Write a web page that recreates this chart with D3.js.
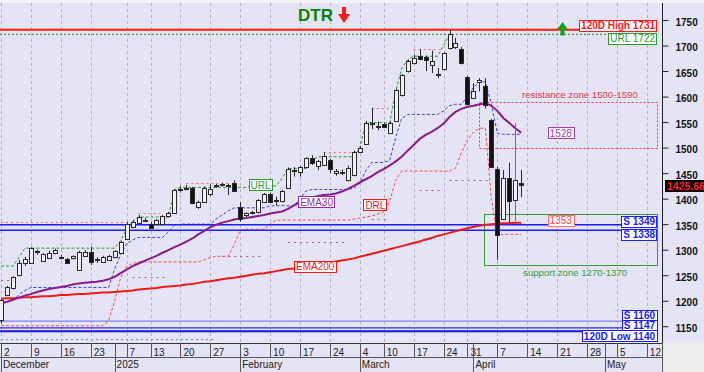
<!DOCTYPE html>
<html>
<head>
<meta charset="utf-8">
<script src="https://cdn.jsdelivr.net/npm/d3@7"></script>
<style>
  body { margin: 0; background: #fff; }
  svg { display: block; font-family: "Liberation Sans", Arial, sans-serif; }
</style>
</head>
<body>
<svg id="chart" width="704" height="372"></svg>
<script>
// daily candles, one per trading day starting 2 Dec 2024 (index 0)
const opens = [1161,1212,1224,1250,1274,1274,1296,1278,1285,1293,
  1286,1281,1283,1261,1288,1296,1281,1276,1281,1285,
  1293,1322,1346,1352,1357,1351,1350,1350,1366,1372,
  1417,1420,1421,1385,1394,1409,1425,1428,1426,1431,
  1384,1368,1372,1373,1394,1410,1396,1395,1421,1455,
  1453,1461,1479,1465,1466,1476,1451,1452,1438,1446,
  1492,1507,1548,1543,1546,1530,1553,1602,1650,1665,
  1679,1678,1663,1644,1654,1694,1696,1694,1639,1597,
  1629,1621,1554,1459,1360,1441,1396,1430];
const highs = [1203,1229,1248,1280,1286,1305,1300,1293,1298,1302,
  1290,1284,1289,1298,1299,1306,1285,1288,1290,1299,
  1318,1354,1358,1368,1362,1354,1360,1368,1374,1419,
  1424,1427,1423,1396,1424,1428,1429,1431,1429,1436,
  1393,1373,1376,1399,1411,1412,1404,1417,1461,1462,
  1464,1481,1485,1476,1491,1478,1458,1457,1465,1494,
  1503,1552,1578,1551,1548,1551,1615,1644,1672,1682,
  1693,1680,1690,1656,1687,1731,1715,1697,1641,1626,
  1636,1636,1556,1462,1456,1470,1548,1456];
const lows = [1155,1209,1222,1248,1268,1272,1290,1276,1283,1291,
  1281,1272,1281,1259,1286,1270,1274,1274,1279,1283,
  1291,1320,1344,1350,1354,1343,1348,1348,1363,1370,
  1412,1416,1389,1380,1392,1405,1421,1424,1407,1413,
  1355,1364,1369,1371,1392,1392,1387,1393,1419,1443,
  1443,1459,1466,1456,1464,1450,1445,1446,1434,1444,
  1490,1505,1536,1534,1539,1528,1551,1600,1647,1663,
  1671,1650,1646,1636,1652,1692,1693,1663,1587,1595,
  1610,1577,1460,1280,1358,1353,1356,1403];
const closes = [1201,1227,1246,1274,1282,1303,1297,1291,1294,1299,
  1285,1274,1287,1296,1296,1277,1280,1285,1288,1297,
  1315,1351,1355,1364,1359,1344,1358,1366,1372,1417,
  1419,1421,1391,1394,1421,1418,1426,1426,1425,1415,
  1361,1371,1374,1397,1409,1394,1398,1415,1459,1456,
  1462,1479,1469,1474,1483,1459,1455,1450,1461,1492,
  1500,1549,1547,1541,1541,1549,1613,1642,1670,1675,
  1673,1672,1670,1645,1685,1722,1704,1667,1587,1611,
  1633,1583,1462,1330,1440,1395,1436,1425.66];

const ema30 = [1195,1198,1202,1206,1210,1213,1217,1220,1223,1225,
  1227,1229,1232,1234,1235,1236,1237,1239,1242,1247,
  1254,1261,1268,1273,1278,1283,1288,1294,1299,1305,
  1310,1316,1322,1330,1337,1344,1349,1353,1356,1359,
  1361,1362,1364,1366,1368,1371,1373,1375,1380,1387,
  1393,1398,1402,1405,1407,1408,1410,1414,1419,1425,
  1432,1438,1444,1452,1458,1465,1473,1482,1494,1505,
  1517,1525,1531,1538,1547,1560,1570,1576,1580,1582,
  1585,1587,1582,1572,1558,1548,1538,1529];
const ema200 = [1204,1205,1205,1206,1207,1207,1208,1209,1209,1210,
  1211,1211,1212,1213,1213,1214,1215,1216,1216,1217,
  1218,1219,1220,1222,1223,1224,1225,1227,1228,1229,
  1230,1232,1233,1235,1237,1238,1240,1242,1244,1245,
  1247,1249,1251,1253,1254,1256,1258,1260,1262,1263,
  1265,1267,1269,1271,1273,1275,1277,1279,1281,1283,
  1286,1289,1292,1295,1298,1301,1304,1307,1310,1313,
  1316,1320,1323,1327,1330,1333,1336,1339,1342,1345,
  1347,1349,1350,1351,1352,1352,1353,1353];

// trailing band (blue dashed), lower band DRL (red dashed), upper band URL (green dashed)
const trail = [null,null,1200,1212,1220,1226,1226,1226,1226,1226,
  1226,1226,1226,1226,1226,1226,1226,1226,1226,1262,
  1290,1312,1319,1324,1324,1324,1324,1324,1335,1348,
  1350,1350,1350,1350,1350,1350,1360,1368,1376,1382,
  1382,1382,1382,1382,1382,1386,1386,1386,1386,1386,
  1400,1415,1418,1418,1418,1418,1418,1418,1418,1420,
  1430,1455,1471,1471,1471,1475,1520,1557,1565,1565,
  1565,1565,1565,1565,1572,1582,1585,1585,1600,1618,
  1629,1629,1585,1528,1526,1526,1526,1526];
const drl = [1151,1151,1151,1151,1151,1151,1151,1151,1151,1151,
  1151,1151,1151,1151,1151,1151,1151,1151,1160,1200,
  1245,1268,1273,1276,1276,1276,1276,1276,1276,1276,
  1276,1276,1276,1276,1280,1285,1287,1287,1287,1310,
  1338,1340,1340,1340,1340,1350,1358,1358,1358,1358,
  1358,1358,1358,1358,1358,1358,1358,1358,1358,1360,
  1362,1364,1366,1370,1374,1395,1436,1454,1454,1454,
  1454,1454,1454,1454,1454,1454,1460,1490,1515,1530,
  1538,1538,1400,1330,1330,1330,1330,1330];
const url = [1268,1268,1268,1285,1303,1303,1303,1303,1303,1303,
  1303,1303,1303,1303,1303,1303,1303,1303,1303,1303,
  1318,1340,1355,1364,1364,1364,1364,1364,1364,1418,
  1422,1422,1422,1422,1422,1422,1422,1422,1422,1422,
  1422,1422,1425,1425,1425,1425,1425,1440,1459,1459,
  1459,1459,1475,1482,1482,1482,1482,1482,1482,1482,
  1500,1549,1549,1549,1549,1549,1610,1655,1672,1679,
  1679,1679,1679,1679,1700,1722];

// short dotted segments: [fromIndex, toIndex, value]
const highSegs = [[0,21,1355],[23,27,1372],[31,38,1430],[54,59,1492],[62,65,1578],[69,74,1693]];
const lowSegs = [[0,3,1240],[22,28,1247],[37,44,1287],[48,58,1315],[62,65,1361],[70,74,1417],[75,82,1436]];
const baseSegs = [[0,36,1126]];

// horizontal levels
const levelVals = [1731, 1722, 1349, 1338, 1160, 1147, 1140];
const levelText = ["120D High 1731", "URL 1722", "S 1349", "S 1338", "S 1160", "S 1147", "120D Low 1140"];

const resZone = [1500, 1590];
const supZone = [1270, 1370];
const lastPrice = 1425.66;

// x axis
const tickIdx = [0,5,10,15,21,25,30,35,40,45,50,55,60,64,69,74,78,83,88,93,98,103,108];
const tickLbl = ["2","9","16","23","7","13","20","27","3","10","17","24","4","10","17","24","31","7","14","21","28","5","12"];
const monthIdx = [0,19,40,60,79,101];
const monthLbl = ["December","2025","February","March","April","May"];

const W = 704, H = 372;
const plotTop = 3, plotBottom = 343, plotRight = 662;
const BG = "#e4e4f4";

const svg = d3.select("#chart");
const x = d3.scaleLinear().domain([0, 110.5]).range([1, 661.8]);
const y = d3.scaleLinear().domain([1117.2, 1783.3]).range([plotBottom, plotTop]);
const px = v => Math.round(v) + 0.5;

svg.append("rect").attr("width", W).attr("height", H).attr("fill", BG);
svg.append("rect").attr("width", W).attr("height", plotTop).attr("fill", "#f3f3f8");
svg.append("rect").attr("x", plotRight).attr("y", plotBottom)
  .attr("width", W - plotRight).attr("height", H - plotBottom).attr("fill", "#ececec");

// vertical grid
svg.append("g").selectAll("line").data(tickIdx).join("line")
  .attr("x1", d => px(x(d))).attr("x2", d => px(x(d)))
  .attr("y1", plotTop).attr("y2", plotBottom)
  .attr("stroke", "#b2b2bc").attr("stroke-dasharray", "3,3");

const labelRight = x(109.7);

// zones
svg.append("rect")
  .attr("x", px(x(80))).attr("y", px(y(resZone[1])))
  .attr("width", Math.round(labelRight - x(80))).attr("height", Math.round(y(resZone[0]) - y(resZone[1])))
  .attr("fill", "none").attr("stroke", "#ff3030").attr("stroke-dasharray", "2,2");
svg.append("rect")
  .attr("x", px(x(80.8))).attr("y", px(y(supZone[1])))
  .attr("width", Math.round(labelRight - x(80.8))).attr("height", Math.round(y(supZone[0]) - y(supZone[1])))
  .attr("fill", "none").attr("stroke", "#3a9a3a");

// dotted segments
function segs(data, color, dash) {
  svg.append("g").selectAll("line").data(data).join("line")
    .attr("x1", d => x(d[0])).attr("x2", d => x(d[1]))
    .attr("y1", d => px(y(d[2]))).attr("y2", d => px(y(d[2])))
    .attr("stroke", color).attr("stroke-dasharray", dash);
}
segs(highSegs, "#ff6a6a", "2,3");
segs(lowSegs, "#b050c0", "2,4");
segs(baseSegs, "#7a7aff", "2,3");

// bands
function band(vals, color, dash, width) {
  const line = d3.line()
    .defined(d => d != null)
    .x((d, i) => x(i)).y(d => y(d));
  svg.append("path").attr("d", line(vals))
    .attr("fill", "none").attr("stroke", color)
    .attr("stroke-width", width).attr("stroke-dasharray", dash);
}
band(drl, "#ff4a4a", "3,2", 1);
band(trail, "#3a3aff", "3,2", 1);
band(url, "#2e9a2e", "3,2", 1);

// level lines
const levelColor = ["#ff1a1a", "#3aa53a", "#1c1cff", "#1c1cff", "#8080ff", "#2a2aff", "#1010e0"];
const levelWidth = [2, 1.3, 1.4, 1.4, 1.2, 1.2, 2];
const levelDash = [null, "2,2", null, null, null, null, null];
svg.append("g").selectAll("line").data(levelVals).join("line")
  .attr("x1", 0).attr("x2", labelRight)
  .attr("y1", d => y(d)).attr("y2", d => y(d))
  .attr("stroke", (d, i) => levelColor[i])
  .attr("stroke-width", (d, i) => levelWidth[i])
  .attr("stroke-dasharray", (d, i) => levelDash[i]);

// moving averages
const maLine = d3.line().x((d, i) => x(i)).y(d => y(d));
svg.append("path").attr("d", maLine(ema200)).attr("fill", "none")
  .attr("stroke", "#f01818").attr("stroke-width", 2);
svg.append("path").attr("d", maLine(ema30)).attr("fill", "none")
  .attr("stroke", "#8a1890").attr("stroke-width", 2);

// candles
const candles = opens.map((o, i) => ({ i, o, h: highs[i], l: lows[i], c: closes[i] }));
const cg = svg.append("g");
cg.selectAll("line").data(candles).join("line")
  .attr("x1", d => px(x(d.i))).attr("x2", d => px(x(d.i)))
  .attr("y1", d => y(d.h)).attr("y2", d => y(d.l))
  .attr("stroke", d => d.i === 86 ? "#707070" : "#2a2a2a");
cg.selectAll("rect").data(candles).join("rect")
  .attr("x", d => px(x(d.i)) - 2)
  .attr("y", d => px(y(Math.max(d.o, d.c))))
  .attr("width", 4)
  .attr("height", d => Math.max(1, Math.round(Math.abs(y(d.o) - y(d.c)))))
  .attr("fill", d => d.c < d.o ? "#111" : "#f0f0fa")
  .attr("stroke", "#2a2a2a");

// boxed labels
function boxLabel(text, xPos, yMid, anchor, color, opts = {}) {
  const g = svg.append("g");
  const t = g.append("text").attr("x", xPos).attr("y", yMid).attr("dy", "0.35em")
    .attr("text-anchor", anchor).attr("fill", color)
    .attr("font-size", opts.size || 10)
    .attr("font-weight", opts.bold ? "bold" : "normal")
    .text(text);
  if (opts.box !== false) {
    const b = t.node().getBBox();
    g.insert("rect", "text")
      .attr("x", Math.round(b.x) - 1.5).attr("y", Math.round(yMid) - 5.5)
      .attr("width", Math.round(b.width) + 3).attr("height", 11)
      .attr("fill", opts.fill || "#fff").attr("stroke", opts.stroke || color);
  }
  return g;
}

const levelTextColor = ["#ff1a1a", "#2e9a2e", "#1c1cff", "#1c1cff", "#1c1cff", "#1c1cff", "#1c1cff"];
const levelBold = [true, false, true, true, true, true, true];
const levelLabelDy = [-4, 4.5, -3, 4.5, -5.5, -2, 5];
levelVals.forEach((v, i) => {
  boxLabel(levelText[i], labelRight - 2, y(v) + levelLabelDy[i], "end", levelTextColor[i], { bold: levelBold[i] });
});

boxLabel("EMA30", x(49.7) + 2, y(1393), "start", "#9a2aa0");
boxLabel("EMA200", x(49) + 2, y(1267), "start", "#f01818");
boxLabel("URL", x(41.4) + 2, y(1426), "start", "#2e9a2e");
boxLabel("DRL", x(60.6) + 2, y(1387), "start", "#f01818");
boxLabel(String(Math.round(ema30[ema30.length - 1]) - 1), x(91.4) + 2, y(1528.5), "start", "#a040a8");
boxLabel(String(Math.round(ema200[ema200.length - 1])), x(91.4) + 2, y(1357), "start", "#ff4040", { stroke: "#ff7070" });

svg.append("text").attr("x", x(96.8)).attr("y", y(resZone[1]) - 4)
  .attr("text-anchor", "middle").attr("font-size", 9.6).attr("fill", "#e8384a")
  .text("resistance zone " + resZone.join("-"));
svg.append("text").attr("x", x(96)).attr("y", y(supZone[0]) + 11)
  .attr("text-anchor", "middle").attr("font-size", 9.6).attr("fill", "#3a9a3a")
  .text("support zone " + supZone.join("-"));

// DTR title with arrows
svg.append("text").attr("x", 298).attr("y", 20.5).attr("font-size", 17)
  .attr("font-weight", "bold").attr("fill", "#078207").text("DTR");
svg.append("path")
  .attr("d", "M342,7 h4 v7 h4 l-6,9 l-6,-9 h4 z")
  .attr("fill", "#ff1a1a");
svg.append("path")
  .attr("d", "M562.5,22 l5.5,7.5 h-3.5 v6 h-4 v-6 h-3.5 z")
  .attr("fill", "#14a014");

// right axis
const yAxis = d3.axisRight(y).tickValues(d3.range(1150, 1751, 50))
  .tickSize(6).tickPadding(7).tickFormat(d3.format("d"));
const yMinor = d3.axisRight(y).tickValues(d3.range(1125, 1776, 12.5))
  .tickSize(3).tickFormat("");
const ax = svg.append("g").attr("transform", `translate(${plotRight + 0.5},0)`);
ax.call(yMinor);
ax.call(yAxis);
ax.selectAll(".domain").remove();
ax.selectAll("line").attr("stroke", "#222");
ax.selectAll("text").attr("font-family", "Liberation Sans, Arial, sans-serif")
  .attr("font-size", 10).attr("font-weight", "bold").attr("fill", "#111").attr("dy", "0.52em");
svg.append("line").attr("x1", plotRight + 0.5).attr("x2", plotRight + 0.5)
  .attr("y1", plotTop).attr("y2", plotBottom).attr("stroke", "#222");

// last price tag
svg.append("rect").attr("x", 665).attr("y", Math.round(y(lastPrice)) - 6)
  .attr("width", 40).attr("height", 12).attr("fill", "#000");
svg.append("text").attr("x", 667).attr("y", Math.round(y(lastPrice)) + 4)
  .attr("font-size", 10.5).attr("font-weight", "bold").attr("fill", "#ff2020")
  .text(lastPrice.toFixed(2));

// bottom date axis
const bx = svg.append("g");
bx.append("line").attr("x1", 0).attr("x2", plotRight).attr("y1", plotBottom + 0.5).attr("y2", plotBottom + 0.5)
  .attr("stroke", "#333");
bx.append("line").attr("x1", 0).attr("x2", plotRight).attr("y1", 357.5).attr("y2", 357.5)
  .attr("stroke", "#555");
bx.selectAll(".dtick").data(tickIdx).join("line").attr("class", "dtick")
  .attr("x1", d => px(x(d))).attr("x2", d => px(x(d)))
  .attr("y1", plotBottom).attr("y2", 357.5).attr("stroke", "#555");
bx.selectAll(".dlbl").data(tickIdx).join("text").attr("class", "dlbl")
  .attr("x", d => x(d) + 3).attr("y", 355.5)
  .attr("font-size", 10).attr("fill", "#222")
  .text((d, i) => tickLbl[i]);
bx.selectAll(".mtick").data(monthIdx).join("line").attr("class", "mtick")
  .attr("x1", d => px(x(d))).attr("x2", d => px(x(d)))
  .attr("y1", plotBottom).attr("y2", H).attr("stroke", "#555");
bx.selectAll(".mlbl").data(monthIdx).join("text").attr("class", "mlbl")
  .attr("x", d => x(d) + 2).attr("y", 367.5)
  .attr("font-size", 10).attr("fill", "#222")
  .text((d, i) => monthLbl[i]);
bx.append("line").attr("x1", plotRight + 0.5).attr("x2", plotRight + 0.5)
  .attr("y1", plotBottom).attr("y2", H).attr("stroke", "#555");
</script>
</body>
</html>
